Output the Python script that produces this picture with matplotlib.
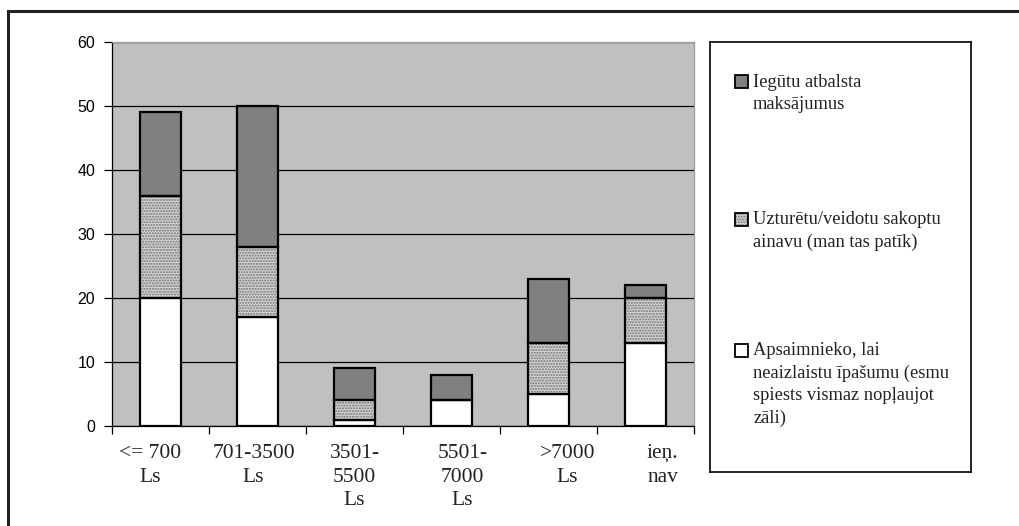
import numpy as np
import matplotlib.pyplot as plt
import matplotlib.transforms as mtransforms
from matplotlib.lines import Line2D
from matplotlib.patches import Rectangle

categories = ['<= 700\nLs', '701-3500\nLs', '3501-\n5500\nLs', '5501-\n7000\nLs', '>7000\nLs', 'ieņ.\nnav']
apsaimnieko = [20, 17, 1, 4, 5, 13]
uzturetu = [16, 11, 3, 0, 8, 7]
iegutu = [13, 22, 5, 4, 10, 2]
labels = ['Iegūtu atbalsta\nmaksājumus',
          'Uzturētu/veidotu sakoptu\nainavu (man tas patīk)',
          'Apsaimnieko, lai\nneaizlaistu īpašumu (esmu\nspiests vismaz nopļaujot\nzāli)']
label_shift = [-10, -4, 0, 11, 19, 17]  # px, label offsets seen in the original

serif = ['Liberation Serif', 'DejaVu Serif']
sans = ['Liberation Sans', 'DejaVu Sans']

fig = plt.figure(figsize=(10.2, 5.26), dpi=100)
ax = fig.add_axes([112/1020, 1-426/526, (694-112)/1020, (426-42)/526])
ax.set_facecolor('#c0c0c0')

x = np.arange(len(categories))
w = 0.42
a = np.array(apsaimnieko)
u = np.array(uzturetu)
g = np.array(iegutu)

ax.bar(x, a, w, color='white', edgecolor='black', linewidth=1.6, zorder=3)
ax.bar(x, u, w, bottom=a, color='#d4d4d4', edgecolor='#707070', hatch='......', linewidth=0, zorder=3)
ax.bar(x, u, w, bottom=a, fill=False, edgecolor='black', linewidth=1.6, zorder=4)
ax.bar(x, g, w, bottom=a+u, color='#808080', edgecolor='black', linewidth=1.6, zorder=3)

ax.set_xlim(-0.5, len(categories)-0.5)
ax.set_ylim(0, 60)
ax.set_yticks(range(0, 61, 10))
ax.yaxis.grid(True, color='black', linewidth=0.9)
ax.set_axisbelow(True)
ax.tick_params(axis='y', direction='out', length=6, width=0.9, pad=6, labelsize=11.5)
for t in ax.get_yticklabels():
    t.set_family(sans)

ax.set_xticks(x)
ax.set_xticklabels(categories, family=serif, fontsize=15.5, linespacing=1.32, color='#222222')
ax.set_xticks(np.arange(-0.5, len(categories), 1), minor=True)
ax.tick_params(axis='x', which='major', length=0, pad=13)
ax.tick_params(axis='x', which='minor', direction='out', length=6, width=0.9)
for t, dx in zip(ax.get_xticklabels(), label_shift):
    t.set_transform(t.get_transform() + mtransforms.ScaledTranslation(dx/100, 0, fig.dpi_scale_trans))

for s in ['left', 'bottom']:
    ax.spines[s].set_color('black')
    ax.spines[s].set_linewidth(0.9)
for s in ['top', 'right']:
    ax.spines[s].set_color('#9a9a9a')
    ax.spines[s].set_linewidth(0.9)

# legend box
lax = fig.add_axes([710/1020, 1-472/526, (971-710)/1020, (472-42)/526])
lax.set_xlim(0, 1)
lax.set_ylim(0, 1)
lax.set_xticks([])
lax.set_yticks([])
for s in lax.spines.values():
    s.set_color('black')
    s.set_linewidth(1.2)
faces = ['#808080', '#d4d4d4', 'white']
ys = [0.908, 0.588, 0.283]
sw, sh = 13/261, 13/430
for lab, fc, yy in zip(labels, faces, ys):
    if fc == '#d4d4d4':
        lax.add_patch(Rectangle((0.096, yy-sh/2), sw, sh, facecolor=fc, edgecolor='#707070', hatch='......', linewidth=0))
        lax.add_patch(Rectangle((0.096, yy-sh/2), sw, sh, fill=False, edgecolor='black', linewidth=1.3))
    else:
        lax.add_patch(Rectangle((0.096, yy-sh/2), sw, sh, facecolor=fc, edgecolor='black', linewidth=1.3))
    lax.text(0.165, yy+8/430, lab, ha='left', va='top', family=serif, fontsize=13.3,
             linespacing=1.4, color='#222222')

fig.add_artist(Line2D([8/1020, 8/1020], [0, 1-11/526], color='#222222', linewidth=2.2))
fig.add_artist(Line2D([8/1020, 1], [1-11/526, 1-11/526], color='#222222', linewidth=2.2))

fig.savefig('out.png', dpi=100)
